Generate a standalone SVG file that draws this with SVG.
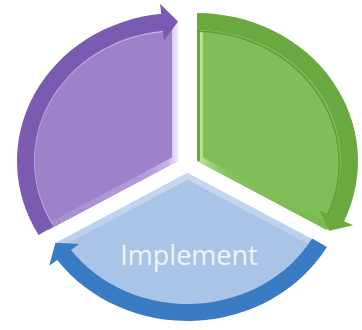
<svg xmlns="http://www.w3.org/2000/svg" width="362" height="330" viewBox="0 0 362 330">
  <style>
    .band-p { fill: #7b5bb1; }
    .band-g { fill: #6aa940; }
    .band-b { fill: #3a7cc4; }
    .fill-p { fill: #9c82c8; }
    .fill-g { fill: #80bf57; }
    .fill-b { fill: #a9c4e7; }
    .bevel { fill: none; stroke-width: 12; stroke-linejoin: miter; }
    .label { font-family: "Open Sans", "Noto Sans", "Liberation Sans", sans-serif; font-size: 27px; fill: #eef4fb; }
  </style>
  <defs>
    <!-- sector shapes (centre, straight edges, outer arc) -->
    <path id="sector-p" d="M178,161 L48.1,230 A150 138 0 0 1 178,23 Z"/>
    <path id="sector-g" d="M197,161 L197,23 A150 138 0 0 1 326.9,230 Z"/>
    <path id="sector-b" d="M187.5,173 L317.4,242 A150 138 0 0 1 57.6,242 Z"/>
    <clipPath id="clip-p"><use href="#sector-p"/></clipPath>
    <clipPath id="clip-g"><use href="#sector-g"/></clipPath>
    <clipPath id="clip-b"><use href="#sector-b"/></clipPath>
    <linearGradient id="bev-p" x1="0" y1="0" x2="1" y2="0">
      <stop offset="0" stop-color="#a38bcd"/>
      <stop offset="0.8" stop-color="#b29ddb"/>
      <stop offset="0.93" stop-color="#c7b4ea"/>
      <stop offset="1" stop-color="#f1eafc"/>
    </linearGradient>
    <linearGradient id="bev-g" x1="0" y1="0" x2="1" y2="0">
      <stop offset="0" stop-color="#c6eba2"/>
      <stop offset="0.08" stop-color="#9fd277"/>
      <stop offset="0.2" stop-color="#86c35d"/>
      <stop offset="1" stop-color="#78b64e"/>
    </linearGradient>
    <linearGradient id="bev-b" x1="0" y1="0" x2="0" y2="1">
      <stop offset="0" stop-color="#c7d9f1"/>
      <stop offset="0.6" stop-color="#b6cdec"/>
      <stop offset="1" stop-color="#9dbbe3"/>
    </linearGradient>
  </defs>

  <!-- purple segment, arrow running up to the top -->
  <g id="segment-purple">
    <use href="#sector-p" class="fill-p"/>
    <use href="#sector-p" class="bevel" stroke="url(#bev-p)" clip-path="url(#clip-p)"/>
    <path d="M52.2,224.5 A143 130 0 0 1 163,31.5" fill="none" stroke="#c2b0e4" stroke-width="1.6"/>
    <path class="band-p" d="M38.57,235 A161 148 0 0 1 161.17,13.81 L160.13,3.87 L178,21.5 L164,40.7 L162.95,30.72 A144 131 0 0 0 53.3,226.5 Z"/>
  </g>

  <!-- green segment, arrow running down to the lower right -->
  <g id="segment-green">
    <use href="#sector-g" class="fill-g"/>
    <use href="#sector-g" class="bevel" stroke="url(#bev-g)" clip-path="url(#clip-g)"/>
    <line x1="198.5" y1="24" x2="198.5" y2="161" stroke="#6aa83f" stroke-width="3"/>
    <path d="M197,31 A145 132 0 0 1 327.5,215" fill="none" stroke="#5e9a38" stroke-width="1.4"/>
    <path class="band-g" d="M197,13 A161 148 0 0 1 344.07,221.19 L353.2,225.26 L329.07,230.75 L319.4,210.2 L328.55,214.28 A144 131 0 0 0 197,30 Z"/>
  </g>

  <!-- blue segment, arrow running round to the lower left -->
  <g id="segment-blue">
    <use href="#sector-b" class="fill-b"/>
    <use href="#sector-b" class="bevel" stroke="url(#bev-b)" clip-path="url(#clip-b)"/>
    <path class="band-b" d="M326.93,247 A161 148 0 0 1 57.25,259.99 L49.16,265.87 L55.43,242.75 L79.1,244.12 L71,250 A144 131 0 0 0 312.2,238.5 Z"/>
    <text class="label" x="189" y="265" text-anchor="middle">Implement</text>
  </g>

  <!-- the arrows are drawn as part of each segment -->
  <g id="connectors"/>
</svg>
